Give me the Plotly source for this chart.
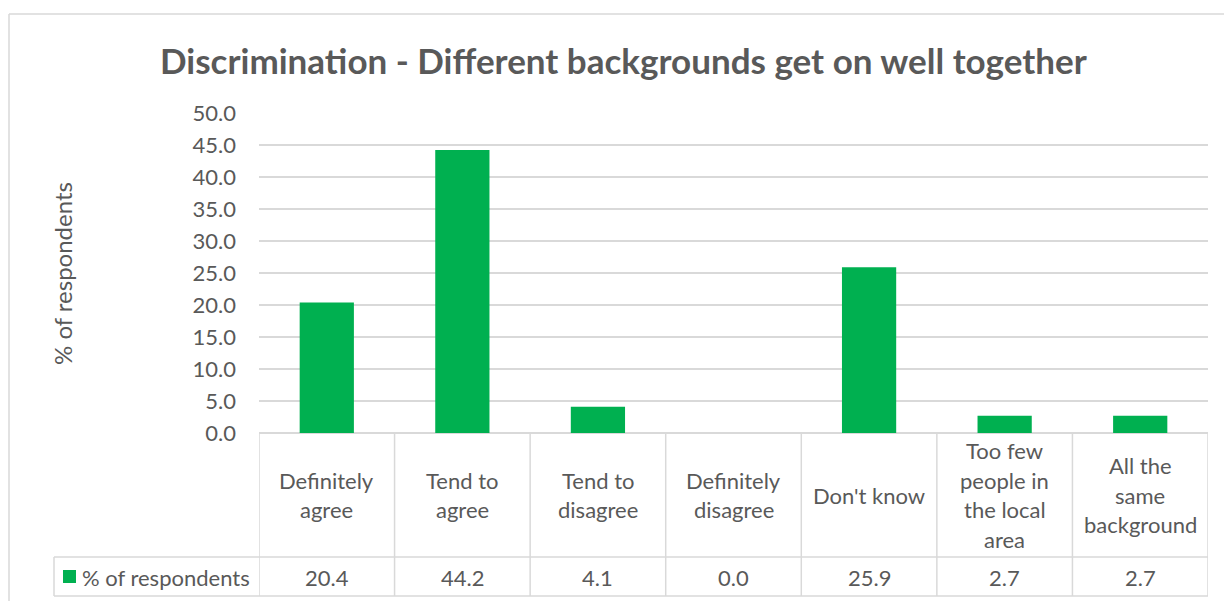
import plotly.graph_objects as go

categories = ["Definitely agree", "Tend to agree", "Tend to disagree", "Definitely disagree",
              "Don't know", "Too few people in the local area", "All the same background"]
label_lines = [["Definitely", "agree"], ["Tend to", "agree"], ["Tend to", "disagree"],
               ["Definitely", "disagree"], ["Don't know"], ["Too few", "people in", "the local", "area"],
               ["All the", "same", "background"]]
values = [20.4, 44.2, 4.1, 0.0, 25.9, 2.7, 2.7]
series_name = "% of respondents"
title = "Discrimination - Different backgrounds get on well together"
y_ticks = [0, 5, 10, 15, 20, 25, 30, 35, 40, 45, 50]

W, H = 1224, 601
FONT = "Lato"
TXT = "#595959"
GRID = "#D9D9D9"
GREEN = "#00B050"

def px(x):
    return x / W

def py(y):
    return 1 - y / H

plot_left, plot_right = 259, 1208
plot_top, plot_bottom = 113, 433
row_split, table_bottom = 557, 596
legend_left = 54

fig = go.Figure()
fig.add_trace(go.Bar(x=list(range(len(categories))), y=values, name=series_name,
                     marker=dict(color=GREEN, line=dict(width=0)), width=0.4,
                     showlegend=False, hovertext=categories))

shapes = []
shapes.append(dict(type="line", xref="paper", yref="paper", x0=px(9), x1=1, y0=py(14), y1=py(14),
                   line=dict(color=GRID, width=1.5)))
shapes.append(dict(type="line", xref="paper", yref="paper", x0=px(9), x1=px(9), y0=py(14), y1=0,
                   line=dict(color=GRID, width=1.5)))
for i in range(len(categories) + 1):
    shapes.append(dict(type="line", xref="x", yref="paper", x0=i - 0.5, x1=i - 0.5,
                       y0=py(plot_bottom), y1=py(table_bottom), line=dict(color=GRID, width=1.5)))
for yy in (row_split, table_bottom):
    shapes.append(dict(type="line", xref="paper", yref="paper", x0=px(legend_left), x1=px(plot_right),
                       y0=py(yy), y1=py(yy), line=dict(color=GRID, width=1.5)))
shapes.append(dict(type="line", xref="paper", yref="paper", x0=px(legend_left), x1=px(legend_left),
                   y0=py(row_split), y1=py(table_bottom), line=dict(color=GRID, width=1.5)))
shapes.append(dict(type="rect", xref="paper", yref="paper", x0=px(63), x1=px(76),
                   y0=py(583), y1=py(570), fillcolor=GREEN, line=dict(width=0)))

annotations = []
annotations.append(dict(text=title, xref="paper", yref="paper", x=px(623), y=py(60),
                        showarrow=False, xanchor="center", yanchor="middle",
                        font=dict(family=FONT, size=35, color=TXT, weight="bold")))
annotations.append(dict(text=series_name, xref="paper", yref="paper", x=px(62), y=py(274),
                        showarrow=False, textangle=-90, xanchor="center", yanchor="middle",
                        font=dict(family=FONT, size=24, color=TXT)))
annotations.append(dict(text=series_name, xref="paper", yref="paper", x=px(80), y=py(577),
                        showarrow=False, xanchor="left", yanchor="middle",
                        font=dict(family=FONT, size=22, color=TXT)))
line_gap = 29.5
label_center = 495
for i, lines in enumerate(label_lines):
    n = len(lines)
    for j, ln in enumerate(lines):
        yy = label_center + (j - (n - 1) / 2) * line_gap
        annotations.append(dict(text=ln, xref="x", yref="paper", x=i, y=py(yy), showarrow=False,
                                xanchor="center", yanchor="middle",
                                font=dict(family=FONT, size=22, color=TXT)))
    annotations.append(dict(text=f"{values[i]:.1f}", xref="x", yref="paper", x=i, y=py(577),
                            showarrow=False, xanchor="center", yanchor="middle",
                            font=dict(family=FONT, size=22, color=TXT)))

fig.update_layout(
    width=W, height=H,
    margin=dict(l=0, r=0, t=0, b=0, pad=0, autoexpand=False),
    paper_bgcolor="white", plot_bgcolor="white",
    shapes=shapes, annotations=annotations,
    xaxis=dict(domain=[px(plot_left), px(plot_right)], range=[-0.5, len(categories) - 0.5],
               showticklabels=False, showgrid=False, zeroline=False, showline=False, ticks="",
               automargin=False),
    yaxis=dict(domain=[py(plot_bottom), py(plot_top)], range=[0, 50], tickvals=y_ticks,
               tickformat=".1f", showgrid=True, gridcolor=GRID, gridwidth=1.5,
               zeroline=True, zerolinecolor=GRID, zerolinewidth=1.5, showline=False,
               ticks="", ticklabelstandoff=22, automargin=False,
               tickfont=dict(family=FONT, size=22, color=TXT)),
    bargap=0.6,
)

fig.write_html("out.html", config={"displayModeBar": False},
               post_script="document.body.style.margin='0';document.body.style.overflow='hidden';")
